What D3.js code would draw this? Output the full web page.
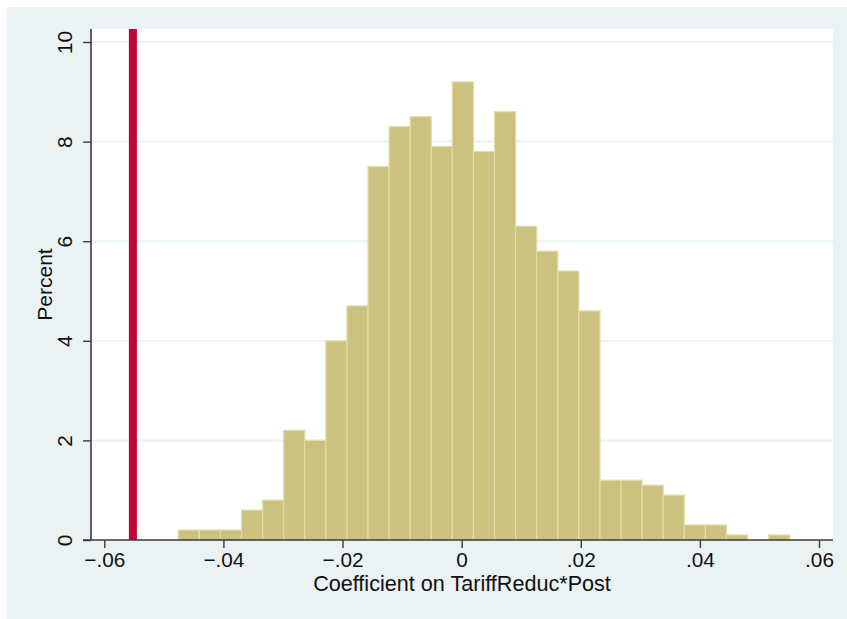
<!DOCTYPE html>
<html>
<head>
<meta charset="utf-8">
<script src="https://cdn.jsdelivr.net/npm/d3@7"></script>
<style>
  html, body { margin: 0; padding: 0; background: #ffffff; }
  svg { display: block; }
  text { font-family: "Liberation Sans", Arial, Helvetica, sans-serif; fill: #111; }
</style>
</head>
<body>
<svg id="chart" width="847" height="619"></svg>
<script>
// Placebo distribution of the estimated coefficient (percent of replications per bin)
const binStart = -0.04758;
const binWidth = 0.00354;
const percents = [0.2, 0.2, 0.2, 0.6, 0.8, 2.2, 2.0, 4.0, 4.7, 7.5,
                  8.3, 8.5, 7.9, 9.2, 7.8, 8.6, 6.3, 5.8, 5.4, 4.6,
                  1.2, 1.2, 1.1, 0.9, 0.3, 0.3, 0.1, 0.0, 0.1];
// Actual estimate marked by the vertical line
const actualEstimate = -0.0552;

const xTicks = [-0.06, -0.04, -0.02, 0, 0.02, 0.04, 0.06];
const xTickLabels = ["\u2212.06", "\u2212.04", "\u2212.02", "0", ".02", ".04", ".06"];
const yTicks = [0, 2, 4, 6, 8, 10];
const yTickLabels = ["0", "2", "4", "6", "8", "10"];
const xTitle = "Coefficient on TariffReduc*Post";
const yTitle = "Percent";

const bins = percents.map((p, i) => ({
  x0: binStart + i * binWidth,
  x1: binStart + (i + 1) * binWidth,
  pct: p
}));

const svg = d3.select("#chart");
const W = 847, H = 619;
const plot = { left: 91, right: 833, top: 29, bottom: 540 };

const x = d3.scaleLinear().domain([-0.06, 0.06]).range([104.3, 819]);
const y = d3.scaleLinear().domain([0, 10]).range([540, 42]);

// graph background
svg.append("rect").attr("x", 7).attr("y", 7).attr("width", W - 7).attr("height", H - 7)
  .attr("fill", "#eaf2f3");

// plot region
svg.append("rect").attr("x", plot.left).attr("y", plot.top)
  .attr("width", plot.right - plot.left).attr("height", plot.bottom - plot.top)
  .attr("fill", "#ffffff");

// horizontal grid lines
svg.append("g").selectAll("line").data(yTicks.filter(d => d > 0)).join("line")
  .attr("x1", plot.left).attr("x2", plot.right)
  .attr("y1", d => y(d)).attr("y2", d => y(d))
  .attr("stroke", "#eaf2f3").attr("stroke-width", 2);

// histogram bars
svg.append("g").selectAll("rect").data(bins.filter(b => b.pct > 0)).join("rect")
  .attr("x", d => x(d.x0))
  .attr("width", d => x(d.x1) - x(d.x0))
  .attr("y", d => y(d.pct))
  .attr("height", d => y(0) - y(d.pct))
  .attr("fill", "#cac27e")
  .attr("stroke", "#e2dca6")
  .attr("stroke-width", 1.2);

// vertical line at the actual estimate
svg.append("line")
  .attr("x1", x(actualEstimate)).attr("x2", x(actualEstimate))
  .attr("y1", plot.top).attr("y2", plot.bottom)
  .attr("stroke", "#c10534").attr("stroke-width", 8);

// x axis
const xAxis = d3.axisBottom(x).tickValues(xTicks)
  .tickFormat((d, i) => xTickLabels[i]).tickSize(8).tickSizeOuter(0).tickPadding(4);
const gx = svg.append("g").attr("transform", `translate(0,${plot.bottom})`).call(xAxis);
gx.select(".domain").remove();
gx.insert("line", ":first-child")
  .attr("x1", 83).attr("x2", plot.right).attr("y1", 0).attr("y2", 0)
  .attr("stroke", "#3a3a3a").attr("stroke-width", 1.6);
gx.selectAll(".tick line").attr("stroke", "#3a3a3a").attr("stroke-width", 1.4);
gx.selectAll(".tick text").attr("font-size", "20.8px").attr("fill", "#111")
  .attr("dy", "0.71em");

// y axis
const yAxis = d3.axisLeft(y).tickValues(yTicks)
  .tickFormat((d, i) => yTickLabels[i]).tickSize(8).tickSizeOuter(0);
const gy = svg.append("g").attr("transform", `translate(${plot.left},0)`).call(yAxis);
gy.select(".domain").remove();
gy.insert("line", ":first-child")
  .attr("x1", 0).attr("x2", 0).attr("y1", plot.top).attr("y2", plot.bottom)
  .attr("stroke", "#3a3a3a").attr("stroke-width", 1.6);
gy.selectAll(".tick line").attr("stroke", "#3a3a3a").attr("stroke-width", 1.4);
gy.selectAll(".tick text")
  .attr("font-size", "20.8px").attr("fill", "#111")
  .attr("x", null).attr("dy", null)
  .attr("text-anchor", "middle")
  .attr("transform", "translate(-19.5,0) rotate(-90)");

// axis titles
svg.append("text")
  .attr("x", (plot.left + plot.right) / 2).attr("y", 591)
  .attr("text-anchor", "middle").attr("font-size", "21.6px")
  .text(xTitle);

svg.append("text")
  .attr("transform", `translate(51.5,${(plot.top + plot.bottom) / 2}) rotate(-90)`)
  .attr("text-anchor", "middle").attr("font-size", "21px")
  .text(yTitle);
</script>
</body>
</html>
